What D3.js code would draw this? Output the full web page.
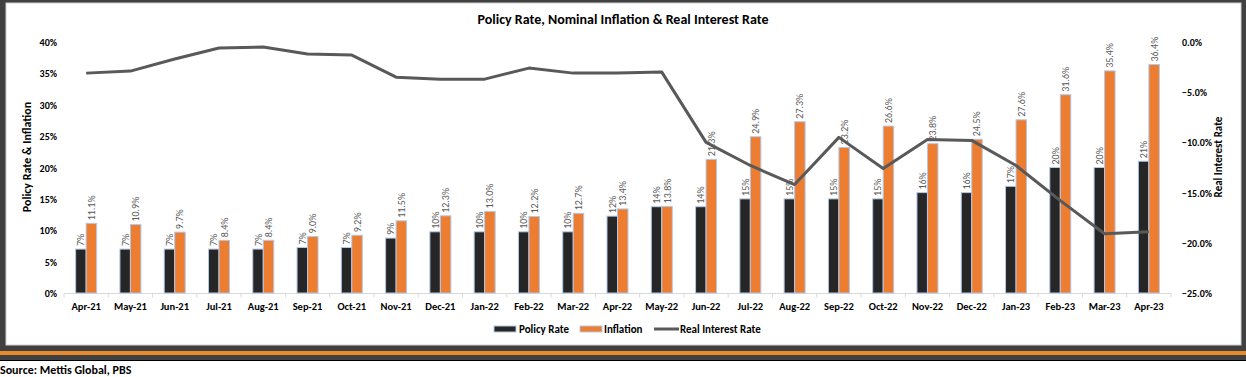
<!DOCTYPE html>
<html>
<head>
<meta charset="utf-8">
<script src="https://cdn.jsdelivr.net/npm/d3@7"></script>
<style>
  body { margin: 0; background: #fff; }
  svg { display: block; }
  text { font-family: Carlito, Calibri, "Liberation Sans Narrow", "Liberation Sans", Arial, sans-serif; }
</style>
</head>
<body>
<div id="chart"></div>
<script>
var months = ["Apr-21","May-21","Jun-21","Jul-21","Aug-21","Sep-21","Oct-21","Nov-21","Dec-21",
  "Jan-22","Feb-22","Mar-22","Apr-22","May-22","Jun-22","Jul-22","Aug-22","Sep-22","Oct-22",
  "Nov-22","Dec-22","Jan-23","Feb-23","Mar-23","Apr-23"];
var policyRate = [7,7,7,7,7,7.25,7.25,8.75,9.75,9.75,9.75,9.75,12.25,13.75,13.75,15,15,15,15,16,16,17,20,20,21];
var inflation = [11.1,10.9,9.7,8.4,8.4,9.0,9.2,11.5,12.3,13.0,12.2,12.7,13.4,13.8,21.3,24.9,27.3,23.2,26.6,23.8,24.5,27.6,31.6,35.4,36.4];
var realRate = [-3.1,-2.9,-1.7,-0.6,-0.5,-1.2,-1.3,-3.5,-3.7,-3.7,-2.6,-3.1,-3.1,-3.0,-10.0,-12.3,-14.2,-9.5,-12.6,-9.7,-9.8,-12.3,-15.8,-19.1,-18.9];
var leftTicks = [0,5,10,15,20,25,30,35,40];
var rightTicks = [0,-5,-10,-15,-20,-25];

var W = 1246, H = 377;
var svg = d3.select("#chart").append("svg")
  .attr("width", W).attr("height", H);

// frame
svg.append("rect").attr("x",0).attr("y",0).attr("width",W).attr("height",360).attr("fill","#404040");
svg.append("rect").attr("x",6).attr("y",3).attr("width",1235).attr("height",342)
  .attr("fill","#fff").attr("stroke","#d0d0d0").attr("stroke-width",1);
svg.append("rect").attr("x",0).attr("y",351).attr("width",W).attr("height",4).attr("fill","#e8892d");
svg.append("rect").attr("x",0).attr("y",360).attr("width",W).attr("height",1).attr("fill","#000");

var x = d3.scaleBand().domain(months).range([64, 1171]);
var yL = d3.scaleLinear().domain([0, 40]).range([293, 42]);
var yR = d3.scaleLinear().domain([-25, 0]).range([293, 42]);
var bw = 10.5;

// title
svg.append("text").attr("x", 623).attr("y", 24).attr("text-anchor","middle")
  .style("font-size","14px").style("font-weight","bold").text("Policy Rate, Nominal Inflation & Real Interest Rate");

// left axis
var gl = svg.append("g").attr("transform","translate(60,0)")
  .call(d3.axisLeft(yL).tickValues(leftTicks).tickSize(0).tickFormat(d => d + "%"));
gl.select(".domain").remove();
gl.selectAll("text").style("font-size","10px").style("font-weight","bold").attr("fill","#000")
  .attr("font-family", null).attr("dy","0.35em");

// right axis
var gr = svg.append("g").attr("transform","translate(1179,0)")
  .call(d3.axisRight(yR).tickValues(rightTicks).tickSize(0).tickFormat(d => d3.format(".1f")(d) + "%"));
gr.select(".domain").remove();
gr.selectAll("text").style("font-size","10px").style("font-weight","bold").attr("fill","#000")
  .attr("font-family", null).attr("dy","0.35em");

// axis titles
svg.append("text").attr("transform","translate(31,157) rotate(-90)").attr("text-anchor","middle")
  .style("font-size","12px").style("font-weight","bold").text("Policy Rate & Inflation");
svg.append("text").attr("transform","translate(1222,157) rotate(-90)").attr("text-anchor","middle")
  .style("font-size","11px").style("font-weight","bold").text("Real Interest Rate");

// bottom axis
var gx = svg.append("g").attr("transform","translate(0,293.5)");
gx.append("line").attr("x1",x.range()[0]).attr("x2",x.range()[1]).attr("stroke","#d9d9d9");
gx.selectAll("line.tk").data(months.concat(["end"])).enter().append("line").attr("class","tk")
  .attr("x1", (d,i) => x.range()[0] + i * x.step()).attr("x2", (d,i) => x.range()[0] + i * x.step())
  .attr("y1",0).attr("y2",4).attr("stroke","#d9d9d9");
gx.selectAll("text").data(months).enter().append("text")
  .attr("x", d => x(d) + x.bandwidth()/2).attr("y", 16).attr("text-anchor","middle")
  .style("font-size","10.5px").style("font-weight","bold").text(d => d);

// bars
var bars = svg.append("g");
bars.selectAll("rect.pr").data(policyRate).enter().append("rect").attr("class","pr")
  .attr("x", (d,i) => x(months[i]) + x.bandwidth()/2 - bw).attr("width", bw)
  .attr("y", d => yL(d)).attr("height", d => yL(0) - yL(d))
  .attr("fill","#262626").attr("stroke","#b4c7e7").attr("stroke-width",1);
bars.selectAll("rect.inf").data(inflation).enter().append("rect").attr("class","inf")
  .attr("x", (d,i) => x(months[i]) + x.bandwidth()/2).attr("width", bw)
  .attr("y", d => yL(d)).attr("height", d => yL(0) - yL(d))
  .attr("fill","#ed7d31").attr("stroke","#b4c7e7").attr("stroke-width",1);

// data labels
var labs = svg.append("g").style("font-size","10px").attr("fill","#595959");
labs.selectAll("text.pl").data(policyRate).enter().append("text")
  .attr("transform", (d,i) => "translate(" + (x(months[i]) + x.bandwidth()/2 - bw/2 + 3.5) + "," + (yL(d) - 3) + ") rotate(-90)")
  .text(d => Math.round(d) + "%");
labs.selectAll("text.il").data(inflation).enter().append("text")
  .attr("transform", (d,i) => "translate(" + (x(months[i]) + x.bandwidth()/2 + bw/2 + 3.5) + "," + (yL(d) - 3) + ") rotate(-90)")
  .text(d => d3.format(".1f")(d) + "%");

// real interest rate line
var line = d3.line().x((d,i) => x(months[i]) + x.bandwidth()/2).y(d => yR(d));
svg.append("path").attr("d", line(realRate)).attr("fill","none")
  .attr("stroke","#595959").attr("stroke-width",3).attr("stroke-linejoin","round");

// legend
var lg = svg.append("g").attr("transform","translate(0,329)").style("font-size","11px").style("font-weight","bold");
lg.append("rect").attr("x",494).attr("y",-3).attr("width",22).attr("height",6).attr("fill","#262626").attr("stroke","#b4c7e7");
lg.append("text").attr("x",519).attr("y",4).text("Policy Rate");
lg.append("rect").attr("x",580).attr("y",-3).attr("width",22).attr("height",6).attr("fill","#ed7d31").attr("stroke","#b4c7e7");
lg.append("text").attr("x",604).attr("y",4).text("Inflation");
lg.append("line").attr("x1",654).attr("x2",679).attr("y1",0).attr("y2",0).attr("stroke","#595959").attr("stroke-width",3);
lg.append("text").attr("x",680).attr("y",4).text("Real Interest Rate");

// source
svg.append("text").attr("x",0).attr("y",374).style("font-size","12px").style("font-weight","bold").text("Source: Mettis Global, PBS");
</script>
</body>
</html>
